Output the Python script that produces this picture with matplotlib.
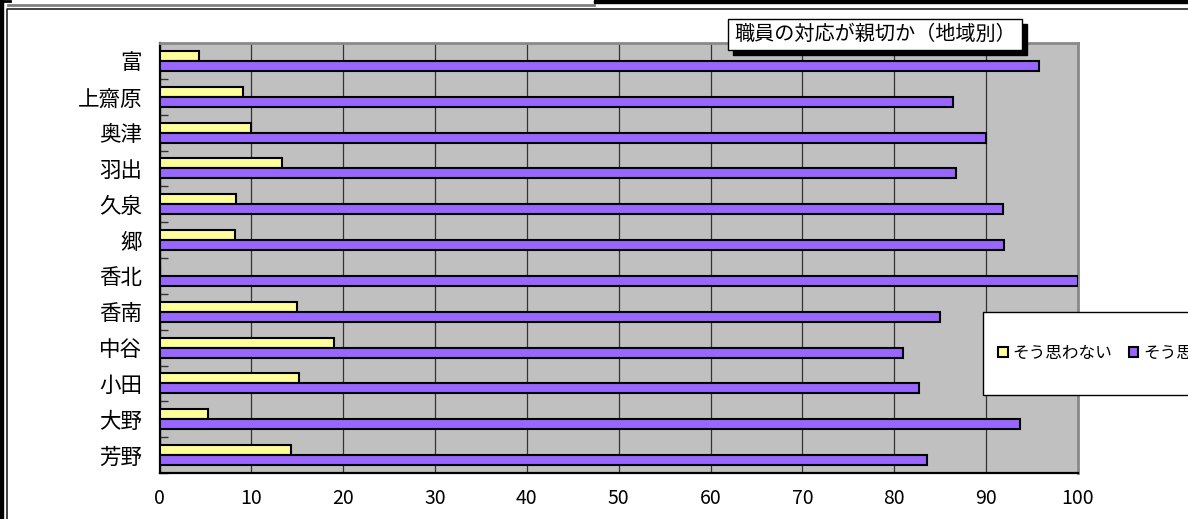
import matplotlib
matplotlib.use('Agg')
import matplotlib.pyplot as plt
from matplotlib.patches import Rectangle
from matplotlib.lines import Line2D
import numpy as np

plt.rcParams['font.family'] = ['Noto Sans CJK JP', 'DejaVu Sans']

# values, top row first
areas = ['富', '上齋原', '奥津', '羽出', '久泉', '郷', '香北', '香南', '中谷', '小田', '大野', '芳野']
no_vals = [4.3, 9.1, 10.0, 13.3, 8.3, 8.2, 0.0, 15.0, 19.0, 15.2, 5.3, 14.3]
yes_vals = [95.7, 86.4, 90.0, 86.7, 91.8, 91.9, 100.0, 85.0, 81.0, 82.7, 93.7, 83.6]
series_names = ['そう思わない', 'そう思う']
title = '職員の対応が親切か（地域別）'
xticks = [0, 10, 20, 30, 40, 50, 60, 70, 80, 90, 100]

W, H = 1188, 519
fig = plt.figure(figsize=(W / 100, H / 100), dpi=100)
fig.patch.set_facecolor('white')

def fx(px):
    return px / W

def fy(py):
    return 1 - py / H

ax = fig.add_axes([fx(159.5), fy(473), fx(1078) - fx(159.5), fy(43) - fy(473)])
ax.set_facecolor('#C0C0C0')

n = len(areas)
ypos = np.arange(n)[::-1]
bh = 0.28
ax.barh(ypos + bh / 2, no_vals, height=bh, color='#FFFF99', edgecolor='black', linewidth=1.5, zorder=3)
ax.barh(ypos - bh / 2, yes_vals, height=bh, color='#9966FF', edgecolor='black', linewidth=1.5, zorder=3)

ax.set_xlim(0, 100)
ax.set_ylim(-0.5, n - 0.5)
ax.set_xticks(xticks)
ax.set_xticklabels([str(t) for t in xticks], fontsize=14)
ax.set_yticks(ypos)
ax.set_yticklabels(areas, fontsize=15.5)
ax.set_yticks(np.arange(-0.5, n, 1), minor=True)
ax.tick_params(axis='y', which='major', length=0, pad=12.5)
ax.tick_params(axis='y', which='minor', direction='in', length=6, width=1, color='#333333')
ax.tick_params(axis='x', which='major', length=0, pad=10.5)
ax.xaxis.grid(True, color='#333333', linewidth=0.9)
ax.set_axisbelow(True)

for s in ['left', 'bottom']:
    ax.spines[s].set_color('black')
    ax.spines[s].set_linewidth(1.6)
for s in ['top', 'right']:
    ax.spines[s].set_color('#8a8a8a')
    ax.spines[s].set_linewidth(2)

# frame bits around the chart
fig.add_artist(Rectangle((0, 0), fx(3), 1, transform=fig.transFigure, color='black', zorder=10))
fig.add_artist(Line2D([fx(8), fx(594)], [fy(4.5), fy(4.5)], transform=fig.transFigure, color='#808080', lw=2, zorder=10))
fig.add_artist(Line2D([0, fx(10)], [fy(1), fy(1)], transform=fig.transFigure, color='black', lw=2, zorder=10))
fig.add_artist(Rectangle((fx(594), fy(3)), 1 - fx(594), fy(0) - fy(3), transform=fig.transFigure, color='black', zorder=10))
fig.add_artist(Line2D([fx(7), fx(7), 1], [0, fy(9), fy(9)], transform=fig.transFigure, color='#222222', lw=1.2, zorder=10))

# title box with shadow
bx0, bx1, by0, by1 = 728, 1022, 19, 50
fig.add_artist(Rectangle((fx(bx0 + 5), fy(by1 + 5)), fx(bx1 - bx0), fy(by0) - fy(by1), transform=fig.transFigure,
                         facecolor='black', edgecolor='black', zorder=11))
fig.add_artist(Rectangle((fx(bx0), fy(by1)), fx(bx1 - bx0), fy(by0) - fy(by1), transform=fig.transFigure,
                         facecolor='white', edgecolor='black', lw=1, zorder=12))
fig.text(fx((bx0 + bx1) / 2), fy((by0 + by1) / 2), title, ha='center', va='center', fontsize=14.5, zorder=13)

# legend box, clipped by the right edge
lx0, ly0, ly1 = 983, 312, 395
fig.add_artist(Rectangle((fx(lx0), fy(ly1)), 1 - fx(lx0) + 0.05, fy(ly0) - fy(ly1), transform=fig.transFigure,
                         facecolor='white', edgecolor='black', lw=1, zorder=11))
handles = [Rectangle((0, 0), 1, 1, facecolor='#FFFF99', edgecolor='black', lw=1.5),
           Rectangle((0, 0), 1, 1, facecolor='#9966FF', edgecolor='black', lw=1.5)]
leg = fig.legend(handles, series_names, ncol=2, loc='center left',
                 bbox_to_anchor=(fx(990), fy((ly0 + ly1) / 2)), frameon=False, fontsize=12,
                 handlelength=0.55, handleheight=0.55, handletextpad=0.3, columnspacing=1.0, borderpad=0)
leg.set_zorder(12)

fig.savefig('out.png', dpi=100)
